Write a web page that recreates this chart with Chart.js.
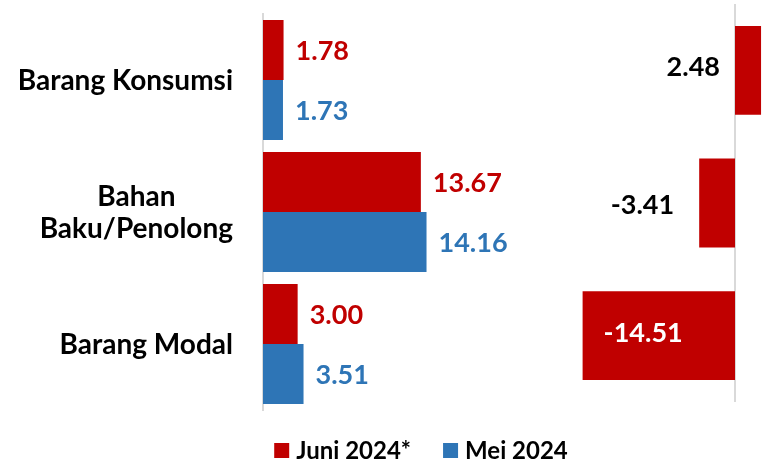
<!DOCTYPE html>
<html lang="id">
<head>
    <meta charset="UTF-8">
    <title>Impor menurut golongan barang</title>
    <script src="https://cdn.jsdelivr.net/npm/chart.js"></script>
    <style>
        html, body {
            margin: 0;
            padding: 0;
            background: #ffffff;
            overflow: hidden;
        }
        .wrap {
            position: relative;
            width: 762px;
            height: 460px;
            overflow: hidden;
        }
        #leftBox {
            position: absolute;
            left: 0;
            top: 0;
            width: 580px;
            height: 460px;
        }
        #rightBox {
            position: absolute;
            left: 570px;
            top: 0;
            width: 192px;
            height: 460px;
        }
    </style>
</head>
<body>
    <div class="wrap">
        <div id="leftBox"><canvas id="shareChart"></canvas></div>
        <div id="rightBox"><canvas id="changeChart"></canvas></div>
    </div>

    <script>
        // data
        const categories = [['Barang Konsumsi'], ['Bahan', 'Baku/Penolong'], ['Barang Modal']];
        const juni2024 = [1.78, 13.67, 3.00];
        const mei2024 = [1.73, 14.16, 3.51];
        const perubahan = [2.48, -3.41, -14.51];

        const RED = '#C00000';
        const BLUE = '#2E75B6';
        const AXIS = '#D9D9D9';

        const FAMILY = 'Lato, "Open Sans", sans-serif';
        Chart.defaults.font.family = FAMILY;
        Chart.defaults.font.weight = 'bold';
        Chart.defaults.color = '#000000';

        const catFont = '700 28px ' + FAMILY;
        const valFont = '700 27px ' + FAMILY;
        const legFont = '700 24px ' + FAMILY;

        // category names, each block right aligned, lines centred inside the block
        const categoryLabels = {
            id: 'categoryLabels',
            afterDraw(chart) {
                const ctx = chart.ctx;
                const yScale = chart.scales.y;
                const right = chart.chartArea.left - 30;
                const lineH = 32;
                ctx.save();
                ctx.font = catFont;
                ctx.fillStyle = '#000';
                ctx.textBaseline = 'middle';
                ctx.textAlign = 'center';
                categories.forEach((lines, i) => {
                    const w = Math.max(...lines.map(l => ctx.measureText(l).width));
                    const cx = right - w / 2;
                    const cy = yScale.getPixelForValue(i);
                    const top = cy - (lines.length - 1) * lineH / 2;
                    lines.forEach((l, k) => ctx.fillText(l, cx, top + k * lineH + 1));
                });
                ctx.restore();
            }
        };

        const valueLabels = {
            id: 'valueLabels',
            afterDatasetsDraw(chart) {
                const ctx = chart.ctx;
                ctx.save();
                ctx.font = valFont;
                ctx.textBaseline = 'middle';
                ctx.textAlign = 'left';
                chart.data.datasets.forEach((ds, di) => {
                    chart.getDatasetMeta(di).data.forEach((bar, i) => {
                        ctx.fillStyle = ds.backgroundColor;
                        ctx.fillText(ds.data[i].toFixed(2), bar.x + 12, bar.y + 1);
                    });
                });
                ctx.restore();
            }
        };

        // legend centred under the plot area, like the spreadsheet one
        const bottomLegend = {
            id: 'bottomLegend',
            afterDraw(chart) {
                const ctx = chart.ctx;
                const box = 15, gap = 7, between = 32;
                ctx.save();
                ctx.font = legFont;
                ctx.textBaseline = 'middle';
                ctx.textAlign = 'left';
                const items = chart.data.datasets.map(ds => ({
                    text: ds.label, color: ds.backgroundColor, w: ctx.measureText(ds.label).width
                }));
                const total = items.reduce((s, it) => s + box + gap + it.w, 0) + between * (items.length - 1);
                let x = 421 - total / 2;
                const y = 450;
                items.forEach(it => {
                    ctx.fillStyle = it.color;
                    ctx.fillRect(x, y - 7, box, box);
                    ctx.fillStyle = '#000';
                    ctx.fillText(it.text, x + box + gap, y + 1);
                    x += box + gap + it.w + between;
                });
                ctx.restore();
            }
        };

        new Chart(document.getElementById('shareChart'), {
            type: 'bar',
            data: {
                labels: categories,
                datasets: [
                    { label: 'Juni 2024*', data: juni2024, backgroundColor: RED, borderWidth: 0 },
                    { label: 'Mei 2024', data: mei2024, backgroundColor: BLUE, borderWidth: 0 }
                ]
            },
            options: {
                indexAxis: 'y',
                responsive: true,
                maintainAspectRatio: false,
                animation: false,
                layout: { padding: { top: 14, left: 0, right: 0, bottom: 50 } },
                datasets: { bar: { categoryPercentage: 120 / 132, barPercentage: 1 } },
                scales: {
                    x: { min: 0, max: 27.45, display: false },
                    y: {
                        ticks: { display: false },
                        grid: { display: false, drawTicks: false },
                        border: { display: true, color: AXIS, width: 2 },
                        afterFit: s => { s.width = 263; }
                    }
                },
                plugins: {
                    legend: { display: false },
                    tooltip: { enabled: false }
                }
            },
            plugins: [categoryLabels, valueLabels, bottomLegend]
        });

        // zero line and labels of the change chart
        const zeroLine = {
            id: 'zeroLine',
            beforeDatasetsDraw(chart) {
                const ctx = chart.ctx;
                const x0 = chart.scales.x.getPixelForValue(0);
                ctx.save();
                ctx.strokeStyle = AXIS;
                ctx.lineWidth = 2;
                ctx.beginPath();
                ctx.moveTo(x0, chart.chartArea.top);
                ctx.lineTo(x0, chart.chartArea.bottom);
                ctx.stroke();
                ctx.restore();
            }
        };

        const changeLabels = {
            id: 'changeLabels',
            afterDatasetsDraw(chart) {
                const ctx = chart.ctx;
                const ds = chart.data.datasets[0];
                ctx.save();
                ctx.font = valFont;
                ctx.textBaseline = 'middle';
                chart.getDatasetMeta(0).data.forEach((bar, i) => {
                    const v = ds.data[i];
                    const left = Math.min(bar.x, bar.base);
                    const len = Math.abs(bar.x - bar.base);
                    const txt = v.toFixed(2);
                    if (len > 100) {
                        ctx.fillStyle = '#fff';
                        ctx.textAlign = 'left';
                        ctx.fillText(txt, left + 21, bar.y - 2);
                    } else {
                        ctx.fillStyle = '#000';
                        ctx.textAlign = 'right';
                        ctx.fillText(txt, left - (v < 0 ? 25 : 15), bar.y + (v < 0 ? 2 : -3));
                    }
                });
                ctx.restore();
            }
        };

        new Chart(document.getElementById('changeChart'), {
            type: 'bar',
            data: {
                labels: categories,
                datasets: [
                    { label: 'Perubahan', data: perubahan, backgroundColor: RED, borderWidth: 0 }
                ]
            },
            options: {
                indexAxis: 'y',
                responsive: true,
                maintainAspectRatio: false,
                animation: false,
                layout: { padding: { top: 4, left: 0, right: 0, bottom: 58 } },
                datasets: { bar: { categoryPercentage: 0.67, barPercentage: 1 } },
                scales: {
                    x: { min: -15.71, max: 2.57, display: false },
                    y: { display: false }
                },
                plugins: {
                    legend: { display: false },
                    tooltip: { enabled: false }
                }
            },
            plugins: [zeroLine, changeLabels]
        });
    </script>
</body>
</html>
